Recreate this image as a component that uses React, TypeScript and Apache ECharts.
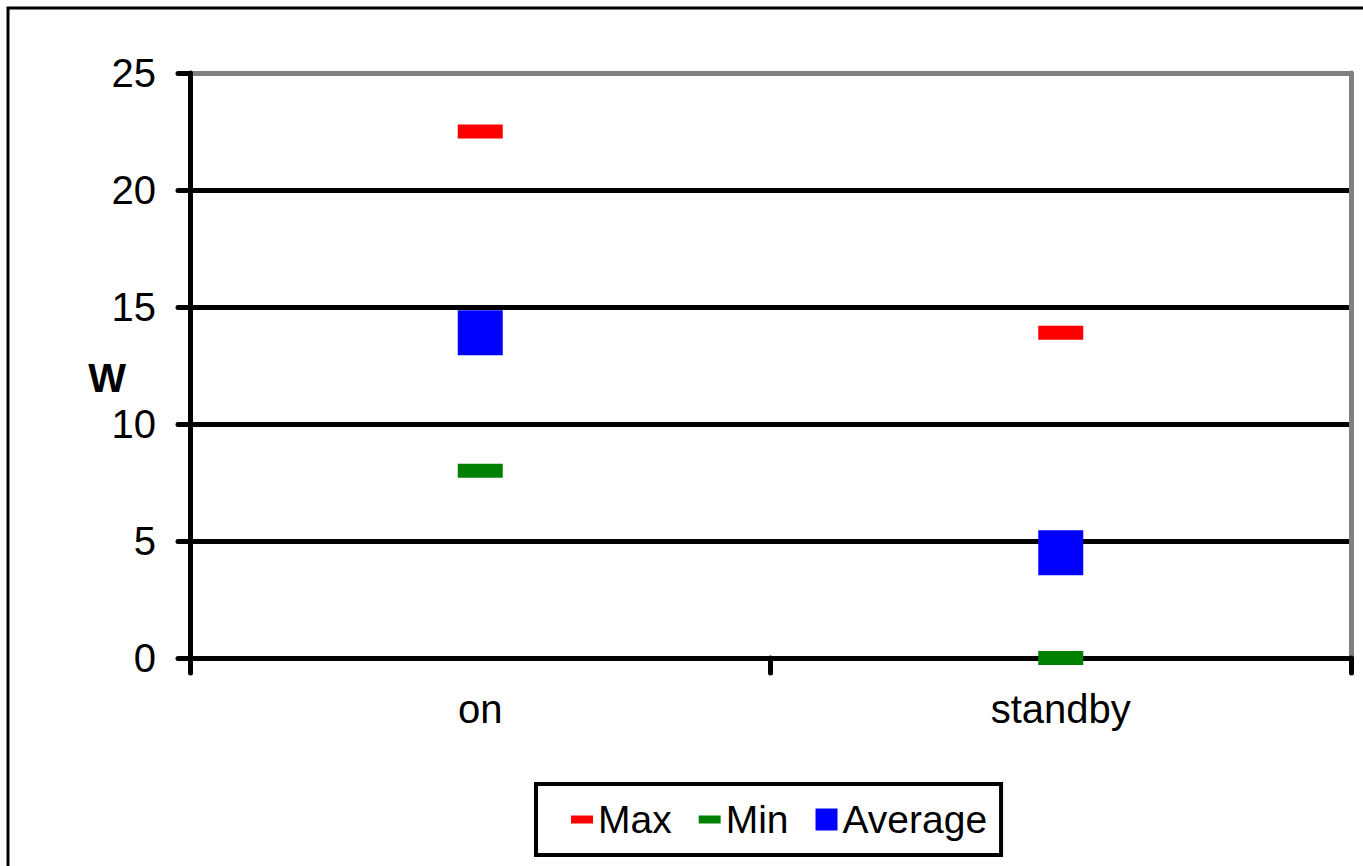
import React, { useEffect, useRef } from "react";
import * as echarts from "echarts";

const categories = ["on", "standby"];
const maxValues = [22.5, 13.9];
const minValues = [8.0, 0];
const averageValues = [13.9, 4.5];
const yTicks = { min: 0, max: 25, interval: 5 };
const axisTitle = "W";

const FONT = "'Liberation Sans', Arial, sans-serif";
const DASH_ICON = "path://M0,0 M22,22 M0,7 L22,7 L22,15 L0,15 Z";
const SQUARE_ICON = "path://M0,0 L22,0 L22,22 L0,22 Z";

export default function App() {
  const ref = useRef<HTMLDivElement>(null);
  useEffect(() => {
    if (!ref.current) return;
    const chart = echarts.init(ref.current, null, { renderer: "svg" });
    chart.setOption({
      animation: false,
      backgroundColor: "#ffffff",
      textStyle: { fontFamily: FONT },
      grid: { left: 190, right: 12, top: 73, bottom: 208, containLabel: false },
      xAxis: {
        type: "category",
        data: categories,
        boundaryGap: true,
        axisLine: { show: true, lineStyle: { color: "#000", width: 5 } },
        axisTick: { show: true, inside: false, length: 15, lineStyle: { color: "#000", width: 5, cap: "round" } },
        axisLabel: { color: "#000", fontSize: 40, fontFamily: FONT, margin: 31 },
        splitLine: { show: false },
      },
      yAxis: [
        {
          type: "value",
          min: yTicks.min,
          max: yTicks.max,
          interval: yTicks.interval,
          axisLine: { show: true, lineStyle: { color: "#000", width: 5 } },
          axisTick: { show: true, inside: false, length: 12, lineStyle: { color: "#000", width: 5, cap: "round" } },
          axisLabel: { color: "#000", fontSize: 40, fontFamily: FONT, margin: 34 },
          splitLine: {
            show: true,
            lineStyle: { color: ["#000", "#000", "#000", "#000", "#000", "#808080"], width: 5 },
          },
        },
        {
          type: "value",
          position: "right",
          min: yTicks.min,
          max: yTicks.max,
          interval: yTicks.interval,
          axisLine: { show: true, lineStyle: { color: "#808080", width: 5 } },
          axisTick: { show: false },
          axisLabel: { show: false },
          splitLine: { show: false },
        },
      ],
      legend: {
        left: 536,
        top: 784,
        orient: "horizontal",
        itemWidth: 22,
        itemHeight: 22,
        itemGap: 27,
        padding: [16, 14, 16, 35],
        borderColor: "#000",
        borderWidth: 4,
        backgroundColor: "#fff",
        textStyle: { color: "#000", fontSize: 39, fontFamily: FONT },
        data: [
          { name: "Max", icon: DASH_ICON },
          { name: "Min", icon: DASH_ICON },
          { name: "Average", icon: SQUARE_ICON },
        ],
      },
      graphic: [
        {
          type: "polyline",
          shape: { points: [[8, 900], [8, 8], [1400, 8]] },
          style: { stroke: "#000", lineWidth: 3, fill: null },
          silent: true,
        },
        {
          type: "text",
          x: 107,
          y: 378,
          style: {
            text: axisTitle,
            font: `bold 40px ${FONT}`,
            fill: "#000",
            textAlign: "center",
            textVerticalAlign: "middle",
          },
        },
      ],
      series: [
        {
          name: "Max",
          type: "scatter",
          data: maxValues,
          symbol: "rect",
          symbolSize: [45, 14],
          itemStyle: { color: "#FF0000", opacity: 1 },
          z: 5,
        },
        {
          name: "Min",
          type: "scatter",
          data: minValues,
          symbol: "rect",
          symbolSize: [45, 14],
          itemStyle: { color: "#008000", opacity: 1 },
          z: 5,
        },
        {
          name: "Average",
          type: "scatter",
          data: averageValues,
          symbol: "rect",
          symbolSize: [45, 45],
          itemStyle: { color: "#0000FF", opacity: 1 },
          z: 5,
        },
      ],
    });
    return () => chart.dispose();
  }, []);
  return (
    <div
      ref={ref}
      style={{ position: "fixed", left: 0, top: 0, width: 1363, height: 866, background: "#fff" }}
    />
  );
}
